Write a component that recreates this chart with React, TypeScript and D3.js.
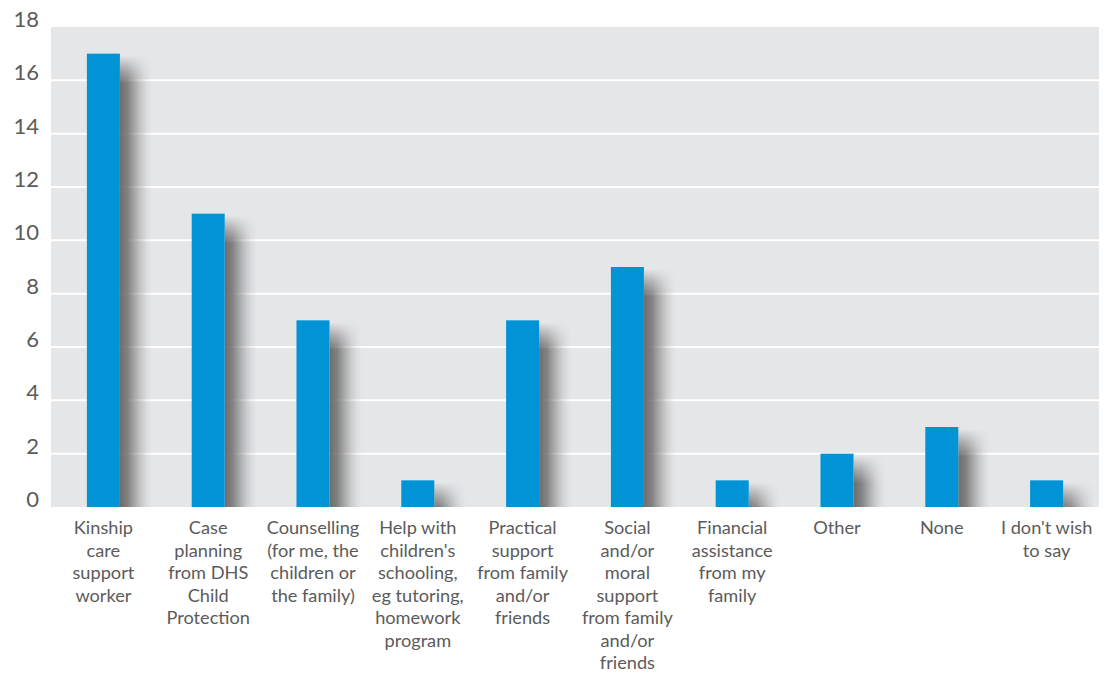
import React from "react";
import * as d3 from "d3";

const categories: string[][] = [
  ["Kinship", "care", "support", "worker"],
  ["Case", "planning", "from DHS", "Child", "Protection"],
  ["Counselling", "(for me, the", "children or", "the family)"],
  ["Help with", "children's", "schooling,", "eg tutoring,", "homework", "program"],
  ["Practical", "support", "from family", "and/or", "friends"],
  ["Social", "and/or", "moral", "support", "from family", "and/or", "friends"],
  ["Financial", "assistance", "from my", "family"],
  ["Other"],
  ["None"],
  ["I don't wish", "to say"],
];
const values: number[] = [17, 11, 7, 1, 7, 9, 1, 2, 3, 1];
const yTicks: number[] = [0, 2, 4, 6, 8, 10, 12, 14, 16, 18];

const W = 1109;
const H = 673;
const left = 51;
const right = 1099;
const top = 27;
const bottom = 507;

export default function App() {
  const x = d3
    .scaleBand<number>()
    .domain(values.map((_, i) => i))
    .range([left, right])
    .paddingInner(0.685)
    .paddingOuter(0.3425);
  const y = d3.scaleLinear().domain([0, 18]).range([bottom, top]);
  const font = "Lato, 'Open Sans', sans-serif";
  const textColor = "#5b5b5b";
  const shW = 32;

  return (
    <svg
      width={W}
      height={H}
      style={{ position: "absolute", left: 0, top: 0 }}
      fontFamily={font}
    >
      <defs>
        <linearGradient id="hgrad" x1="0" x2="1" y1="0" y2="0">
          <stop offset="0" stopColor="#666666" stopOpacity={0.95} />
          <stop offset="0.25" stopColor="#707070" stopOpacity={0.85} />
          <stop offset="0.5" stopColor="#808080" stopOpacity={0.55} />
          <stop offset="0.75" stopColor="#999999" stopOpacity={0.25} />
          <stop offset="1" stopColor="#bbbbbb" stopOpacity={0} />
        </linearGradient>
        {values.map((v, i) => (
          <linearGradient
            key={i}
            id={`vg${i}`}
            gradientUnits="userSpaceOnUse"
            x1={0}
            x2={0}
            y1={y(v) + 2}
            y2={y(v) + 30}
          >
            <stop offset="0" stopColor="#fff" stopOpacity={0} />
            <stop offset="0.5" stopColor="#fff" stopOpacity={0.55} />
            <stop offset="1" stopColor="#fff" stopOpacity={1} />
          </linearGradient>
        ))}
        {values.map((v, i) => (
          <mask key={i} id={`vm${i}`} maskUnits="userSpaceOnUse" x={0} y={0} width={W} height={H}>
            <rect x={0} y={top} width={W} height={bottom - top} fill={`url(#vg${i})`} />
          </mask>
        ))}
      </defs>
      <rect x={left} y={top} width={right - left} height={bottom - top} fill="#e5e6e8" />
      {yTicks.map((t) => (
        <g key={t}>
          {t > 0 && t < 18 && (
            <line x1={left} x2={right} y1={y(t)} y2={y(t)} stroke="#ffffff" strokeWidth={2} />
          )}
          <text x={39} y={y(t)} textAnchor="end" fontSize={22} fill={textColor}>
            {t}
          </text>
        </g>
      ))}
      {values.map((v, i) => (
        <rect
          key={`s${i}`}
          x={(x(i) as number) + x.bandwidth()}
          y={y(v)}
          width={shW}
          height={bottom - y(v)}
          fill="url(#hgrad)"
          mask={`url(#vm${i})`}
        />
      ))}
      {values.map((v, i) => (
        <rect
          key={i}
          x={x(i)}
          y={y(v)}
          width={x.bandwidth()}
          height={bottom - y(v)}
          fill="#0093d6"
        />
      ))}
      {categories.map((lines, i) => (
        <text
          key={i}
          x={(x(i) as number) + x.bandwidth() / 2}
          y={534}
          textAnchor="middle"
          fontSize={18.2}
          fill={textColor}
        >
          {lines.map((l, j) => (
            <tspan key={j} x={(x(i) as number) + x.bandwidth() / 2} dy={j === 0 ? 0 : 22.5}>
              {l}
            </tspan>
          ))}
        </text>
      ))}
    </svg>
  );
}
